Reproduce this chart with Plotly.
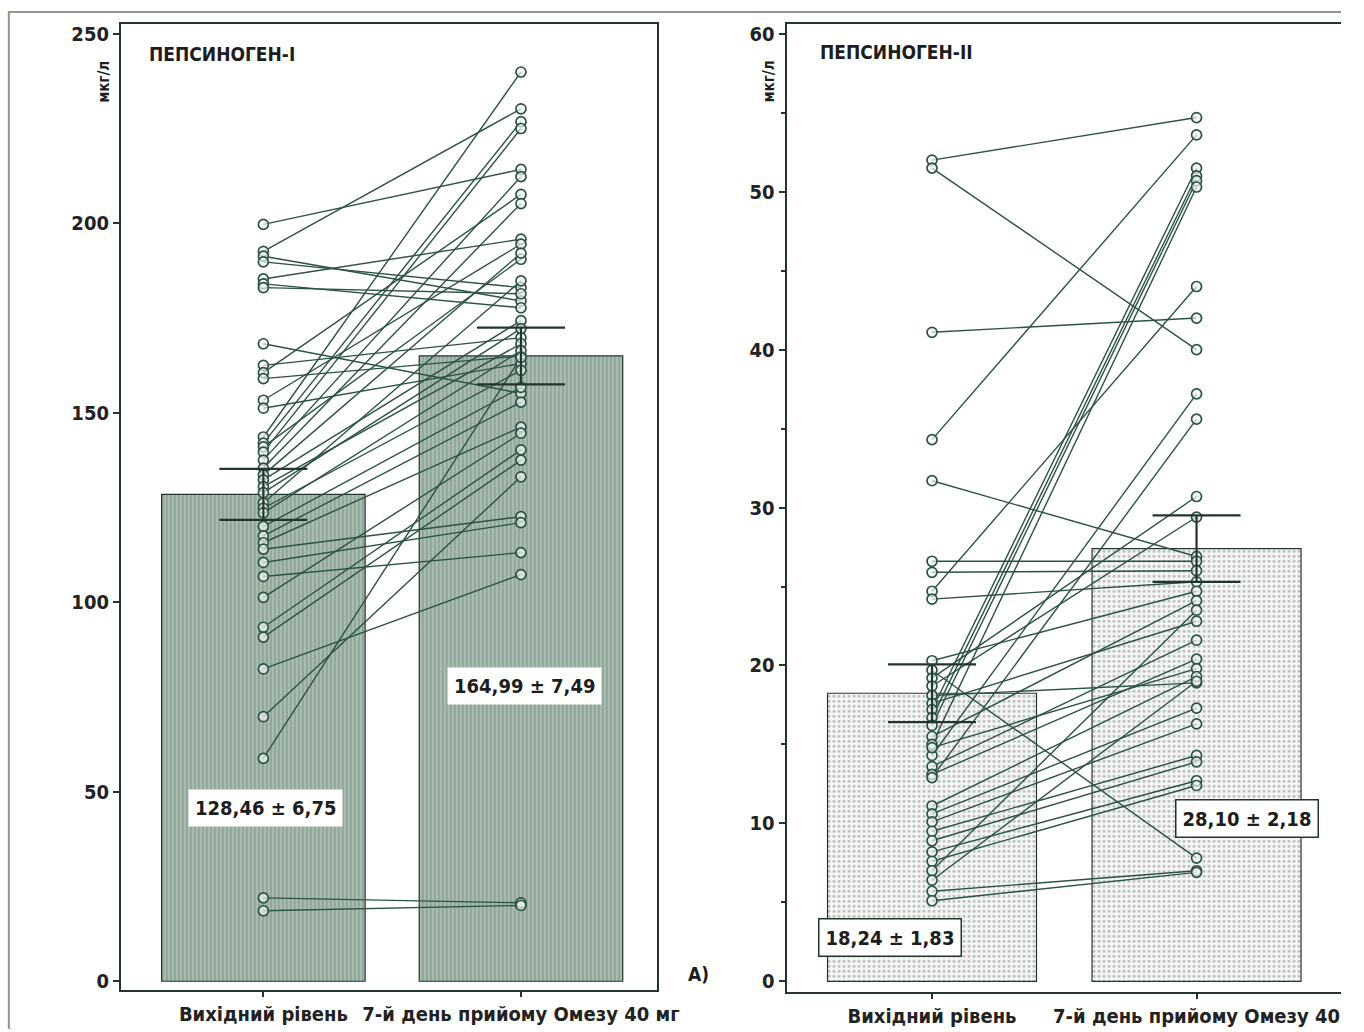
import plotly.graph_objects as go

# ---------------- DATA ----------------
categories = ["Вихідний рівень", "7-й день прийому Омезу 40 мг"]
# the right-hand panel is cut at the page edge in the original, so its label is truncated
categories_right = ["Вихідний рівень", "7-й день прийому Омезу 40"]

# Pepsinogen-I (мкг/л): paired individual values
pg1_base = [199.7, 192.6, 191.3, 189.8, 185.3, 184.0, 183.0, 168.2, 162.5, 160.6,
            159.0, 153.3, 151.2, 143.6, 142.0, 141.0, 139.6, 137.5, 135.4, 133.6,
            132.3, 130.5, 128.9, 126.2, 124.8, 123.6, 120.0, 117.5, 115.7, 114.0,
            110.5, 106.8, 101.3, 93.4, 90.8, 82.4, 69.8, 58.8, 22.0, 18.6]
pg1_post = [214.2, 230.2, 179.5, 183.0, 195.8, 177.7, 181.4, 155.1, 169.8, 207.6,
            165.0, 194.5, 163.0, 239.9, 226.8, 190.5, 225.0, 212.3, 205.2, 192.1,
            174.3, 168.2, 172.2, 184.8, 161.2, 166.4, 156.7, 152.8, 146.2, 122.6,
            121.0, 113.1, 144.6, 140.2, 137.5, 107.3, 133.1, 164.6, 20.7, 20.0]
pg1_mean = [128.46, 164.99]
pg1_err = [6.75, 7.49]
pg1_labels = ["128,46 ± 6,75", "164,99 ± 7,49"]

# Pepsinogen-II (мкг/л): paired individual values
pg2_base = [52.0, 51.5, 41.1, 34.3, 31.7, 26.6, 25.9, 24.7, 24.2, 20.3,
            19.7, 19.2, 18.7, 18.1, 17.6, 17.2, 16.7, 16.2, 15.5, 15.0,
            14.3, 13.6, 13.1, 14.8, 12.9, 11.1, 10.6, 10.1, 9.5, 8.9,
            8.2, 7.6, 7.0, 6.4, 5.7, 5.1]
pg2_post = [54.7, 40.0, 42.0, 53.6, 26.9, 26.6, 26.0, 44.0, 25.3, 24.7,
            7.8, 30.7, 29.4, 18.9, 22.8, 51.5, 51.0, 50.7, 24.1, 50.3,
            37.2, 21.6, 20.4, 19.8, 35.6, 19.3, 17.3, 16.3, 14.3, 13.9,
            12.7, 12.4, 23.5, 19.0, 7.0, 6.9]
pg2_mean = [18.24, 27.4]
pg2_err = [1.83, 2.1]
pg2_labels = ["18,24 ± 1,83", "28,10 ± 2,18"]

y1_ticks = [0, 50, 100, 150, 200, 250]
y2_ticks = [0, 10, 20, 30, 40, 50, 60]

# ---------------- STYLE ----------------
W, H = 1364, 1032
FONT = "Liberation Sans Narrow, DejaVu Sans Condensed, DejaVu Sans, Arial, sans-serif"
DARK = "#23362c"
LINE = "#2c5243"


def px(x):
    return x / W


def py(y):
    return 1 - y / H


fig = go.Figure()


def add_panel(base, post, mean, err, xa, ya, pattern):
    fig.add_trace(go.Bar(
        x=[0, 1], y=mean, width=0.79, xaxis=xa, yaxis=ya,
        marker=dict(color=pattern["bg"], line=dict(color=DARK, width=1.2),
                    pattern=dict(shape=pattern["shape"], fgcolor=pattern["fg"],
                                 bgcolor=pattern["bg"], size=pattern["size"],
                                 solidity=pattern["solidity"])),
        showlegend=False, hoverinfo="skip"))
    xs, ys = [], []
    for b, p in zip(base, post):
        xs += [0, 1, None]
        ys += [b, p, None]
    fig.add_trace(go.Scatter(
        x=xs, y=ys, mode="lines+markers", xaxis=xa, yaxis=ya,
        line=dict(color=LINE, width=1.4),
        marker=dict(symbol="circle", size=10, color="rgba(240,244,241,0.7)",
                    line=dict(color=LINE, width=1.7)),
        showlegend=False, hoverinfo="skip"))
    fig.add_trace(go.Scatter(
        x=[0, 1], y=mean, mode="markers", xaxis=xa, yaxis=ya,
        marker=dict(size=1, color="rgba(0,0,0,0)"),
        error_y=dict(type="data", array=err, color=DARK, thickness=2.2, width=44),
        showlegend=False, hoverinfo="skip"))


add_panel(pg1_base, pg1_post, pg1_mean, pg1_err, "x", "y",
          dict(shape="|", fg="#6b8677", bg="#aabcb0", size=4, solidity=0.4))
add_panel(pg2_base, pg2_post, pg2_mean, pg2_err, "x2", "y2",
          dict(shape=".", fg="#6d7e73", bg="#f6f7f5", size=5, solidity=0.25))

axis_common = dict(showline=True, linecolor=DARK, linewidth=2, showgrid=False,
                   zeroline=False, ticks="outside", tickcolor=DARK, tickwidth=1.5,
                   tickfont=dict(family=FONT, size=20, color="#222", weight="bold"))

fig.update_layout(
    width=W, height=H, margin=dict(l=0, r=0, t=0, b=0), autosize=False,
    paper_bgcolor="white", plot_bgcolor="white", barmode="overlay",
    xaxis=dict(domain=[px(123), px(668)], range=[-0.553, 1.527],
               tickvals=[0, 1], ticktext=categories, ticklen=5, mirror=True,
               anchor="y", **axis_common),
    yaxis=dict(domain=[py(993), py(22)], range=[-2.36, 252.6],
               tickvals=y1_ticks, ticklen=6, mirror=True, anchor="x", **axis_common),
    xaxis2=dict(domain=[px(800), 1.0], range=[-0.55, 1.546],
                tickvals=[0, 1], ticktext=categories_right, ticklen=5, mirror=True,
                anchor="y2", **axis_common),
    yaxis2=dict(domain=[py(995), py(22)], range=[-0.69, 60.63],
                tickvals=y2_ticks, ticklen=6, anchor="x2",
                minor=dict(dtick=5, ticklen=4, ticks="outside", tickcolor=DARK),
                **axis_common),
)

ann = []
tf = dict(family=FONT, color="#1d1d1d", weight="bold")
ann.append(dict(x=px(150), y=py(52), xref="paper", yref="paper", text="ПЕПСИНОГЕН-І",
                showarrow=False, xanchor="left", yanchor="middle", font=dict(size=19, **tf)))
ann.append(dict(x=px(832), y=py(50), xref="paper", yref="paper", text="ПЕПСИНОГЕН-ІІ",
                showarrow=False, xanchor="left", yanchor="middle", font=dict(size=19, **tf)))
for xx in (105, 782):
    ann.append(dict(x=px(xx), y=py(80), xref="paper", yref="paper", text="мкг/л",
                    textangle=-90, showarrow=False, xanchor="center", yanchor="middle",
                    font=dict(size=15, **tf)))
ann.append(dict(x=px(710), y=py(977), xref="paper", yref="paper", text="A)",
                showarrow=False, xanchor="center", yanchor="middle", font=dict(size=19, **tf)))
boxes = [(270, 810, pg1_labels[0], None), (533, 687, pg1_labels[1], None),
         (905, 940, pg2_labels[0], DARK), (1268, 820, pg2_labels[1], DARK)]
for bx, by, txt, bc in boxes:
    d = dict(x=px(bx), y=py(by), xref="paper", yref="paper", text=txt, showarrow=False,
             xanchor="center", yanchor="middle",
             bgcolor="white", borderpad=6, font=dict(size=20, **tf))
    if bc:
        d.update(bordercolor=bc, borderwidth=1.5)
    ann.append(d)
fig.update_layout(annotations=ann)

# outer border (top and left edges visible in the original)
fig.add_shape(type="path", xref="paper", yref="paper",
              path=f"M {px(9)},0 L {px(9)},{py(10)} L 1,{py(10)}",
              line=dict(color="#8d9a86", width=2))

fit_js = (
    "document.documentElement.style.overflow='hidden';"
    "document.body.style.overflow='hidden';"
    "document.body.style.margin='0';"
    "var gd=document.getElementById('{plot_id}');"
    "Plotly.relayout(gd,{width:document.documentElement.clientWidth,"
    "height:document.documentElement.clientHeight});"
)
fig.write_html("out.html", config={"displayModeBar": False}, post_script=fit_js)
